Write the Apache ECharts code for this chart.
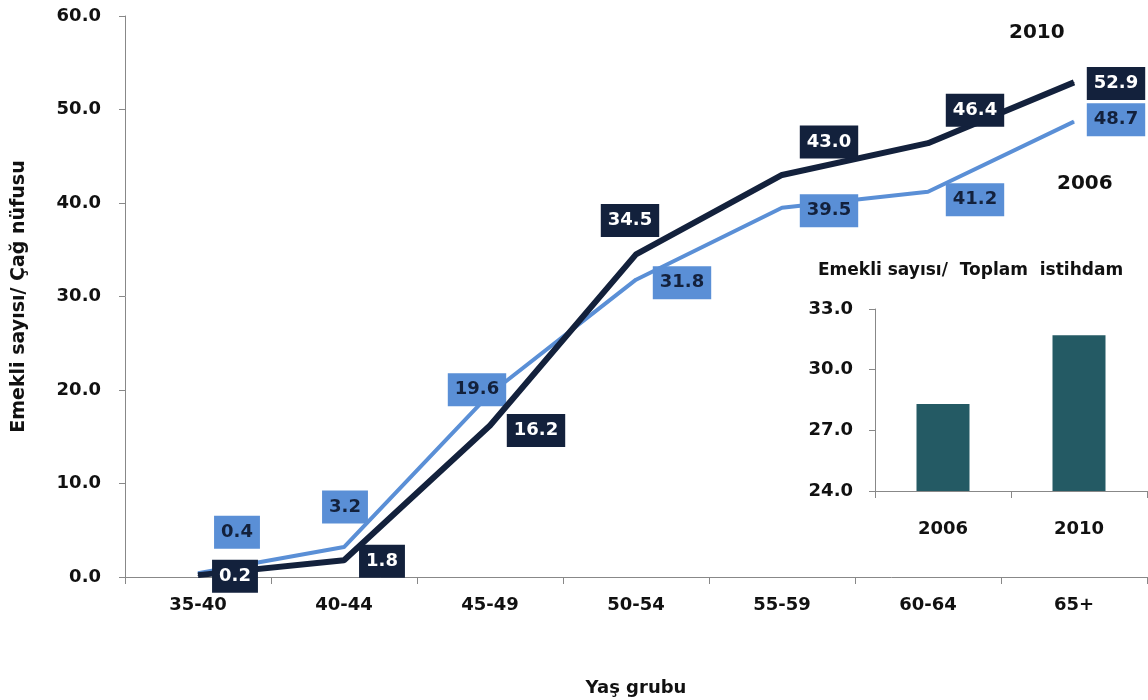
<!DOCTYPE html>
<html><head><meta charset="utf-8">
<script src="https://cdn.jsdelivr.net/npm/echarts@6/dist/echarts.min.js"></script>
<style>html,body{margin:0;padding:0;background:#fff}#c{width:1148px;height:700px}</style>
</head><body><div id="c"></div>
<script>
const categories = ['35-40','40-44','45-49','50-54','55-59','60-64','65+'];
const values2010 = [0.2, 1.8, 16.2, 34.5, 43.0, 46.4, 52.9];
const values2006 = [0.4, 3.2, 19.6, 31.8, 39.5, 41.2, 48.7];
const insetCategories = ['2006','2010'];
const insetValues = [28.3, 31.7];

// label offsets (style only)
const off2010 = [[37,1],[38,1],[46,5],[-6,-34],[47,-33],[47,-33],[42,1]];
const off2006 = [[39,-41],[1,-40],[-13,-4],[46,3],[47,3],[47,8],[42,-2]];

const DARK = '#13213c', LIGHT = '#5a8fd6', BAR = '#245a64';
const FONT = 'DejaVu Sans';
const TFONT = 'DejaVu Sans';

function mk(vals, offs){
  return vals.map((v,i)=>({value:v, label:{offset:offs[i]}}));
}
function lbl(bg, fg){
  return {show:true, position:'inside', formatter:p=>p.value.toFixed(1),
    backgroundColor:bg, color:fg, fontFamily:FONT, fontWeight:'bold', fontSize:18,
    padding:[8,7,7,7], align:'center', verticalAlign:'middle'};
}
const axisLbl = {color:'#111', fontWeight:'bold', fontSize:18, fontFamily:FONT};
const chart = echarts.init(document.getElementById('c'));
chart.setOption({
  animation:false,
  textStyle:{fontFamily:FONT},
  grid:[
    {left:125, right:1, top:16, bottom:123, outerBoundsMode:'none', containLabel:false},
    {left:875, right:1, top:309, bottom:209, outerBoundsMode:'none', containLabel:false,
     backgroundColor:'#fff', show:true, borderWidth:0}
  ],
  xAxis:[
    {type:'category', gridIndex:0, data:categories, boundaryGap:true,
     axisLine:{lineStyle:{color:'#888'}}, axisTick:{show:true, length:7, lineStyle:{color:'#888'}},
     axisLabel:Object.assign({margin:19}, axisLbl),
     name:'Yaş grubu', nameLocation:'middle', nameGap:102,
     nameTextStyle:{color:'#111', fontWeight:'bold', fontSize:18, fontFamily:TFONT}},
    {type:'category', gridIndex:1, data:insetCategories, boundaryGap:true,
     axisLine:{lineStyle:{color:'#888'}}, axisTick:{show:true, length:7, lineStyle:{color:'#888'}},
     axisLabel:Object.assign({margin:29}, axisLbl)}
  ],
  yAxis:[
    {type:'value', gridIndex:0, min:0, max:60, interval:10,
     axisLine:{show:true, lineStyle:{color:'#888'}}, axisTick:{show:true, length:6, lineStyle:{color:'#888'}},
     splitLine:{show:false},
     axisLabel:Object.assign({formatter:v=>v.toFixed(1), margin:24}, axisLbl),
     name:'Emekli sayısı/ Çağ nüfusu', nameLocation:'middle', nameRotate:90, nameGap:96,
     nameTextStyle:{color:'#111', fontWeight:'bold', fontSize:19, fontFamily:TFONT}},
    {type:'value', gridIndex:1, min:24, max:33, interval:3,
     axisLine:{show:true, lineStyle:{color:'#888'}}, axisTick:{show:true, length:6, lineStyle:{color:'#888'}},
     splitLine:{show:false},
     axisLabel:Object.assign({formatter:v=>v.toFixed(1), margin:22}, axisLbl)}
  ],
  graphic:[
    {type:'text', left:1009, top:23, style:{text:'2010', fill:'#111', font:'bold 20px "DejaVu Sans"'}},
    {type:'text', left:1057, top:174, style:{text:'2006', fill:'#111', font:'bold 20px "DejaVu Sans"'}},
    {type:'text', left:818, top:262, style:{text:'Emekli sayısı/  Toplam  istihdam', fill:'#111', font:'bold 17px "DejaVu Sans"'}}
  ],
  series:[
    {type:'line', xAxisIndex:0, yAxisIndex:0, data:mk(values2006, off2006), z:3,
     symbol:'circle', symbolSize:1, lineStyle:{color:LIGHT, width:4}, itemStyle:{color:LIGHT},
     label:lbl(LIGHT, '#13213c')},
    {type:'line', xAxisIndex:0, yAxisIndex:0, data:mk(values2010, off2010), z:4,
     symbol:'circle', symbolSize:1, lineStyle:{color:DARK, width:6}, itemStyle:{color:DARK},
     label:lbl(DARK, '#fff')},
    {type:'bar', xAxisIndex:1, yAxisIndex:1, data:insetValues, barWidth:53,
     itemStyle:{color:BAR}}
  ]
});
</script></body></html>
